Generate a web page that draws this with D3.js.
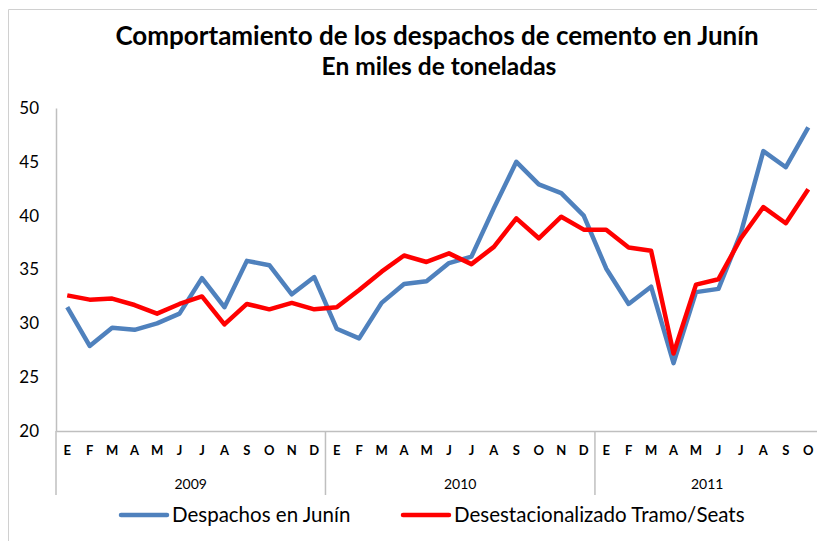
<!DOCTYPE html>
<html lang="es">
<head>
	<meta charset="utf-8">
	<title>Despachos de cemento en Junín</title>
	<script src="https://cdn.jsdelivr.net/npm/d3@7"></script>
	<style>
		body { margin: 0; background: #fff; }
		svg text { font-family: Lato, "Open Sans", sans-serif; fill: #000; }
	</style>
</head>
<body>
	<script>
		var w = 817;
		var h = 541;

		// data (miles de toneladas)
		var months = ["E","F","M","A","M","J","J","A","S","O","N","D",
		              "E","F","M","A","M","J","J","A","S","O","N","D",
		              "E","F","M","A","M","J","J","A","S","O"];
		var years = ["2009", "2010", "2011"];
		var yearLengths = [12, 12, 10];
		var despachos = [31.5, 27.9, 29.6, 29.4, 30.0, 30.9, 34.2, 31.5, 35.8, 35.4, 32.7, 34.3,
		                 29.5, 28.6, 31.9, 33.65, 33.9, 35.6, 36.2, 40.7, 45.0, 42.9, 42.1, 40.0,
		                 35.1, 31.8, 33.4, 26.3, 32.9, 33.2, 38.4, 46.0, 44.5, 48.2];
		var desest = [32.6, 32.2, 32.3, 31.7, 30.9, 31.8, 32.5, 29.9, 31.8, 31.3, 31.9, 31.3,
		              31.5, 33.1, 34.8, 36.3, 35.7, 36.5, 35.5, 37.1, 39.75, 37.9, 39.9, 38.7,
		              38.7, 37.05, 36.75, 27.2, 33.6, 34.1, 37.9, 40.8, 39.3, 42.45];
		var yTicks = [20, 25, 30, 35, 40, 45, 50];
		var seriesNames = ["Despachos en Junín", "Desestacionalizado Tramo/Seats"];
		var colors = ["#4f81bd", "#ff0000"];

		var plotLeft = 56, plotRight = 819.5, plotTop = 108, plotBottom = 431;

		var svg = d3.select("body").append("svg")
			.attr("width", w).attr("height", h);

		// outer frame (right and bottom sides fall outside the picture)
		svg.append("path")
			.attr("d", "M8.5," + h + "V9.5H" + w)
			.attr("fill", "none").attr("stroke", "#d0d0d0");

		// title
		svg.append("text").attr("x", 437).attr("y", 45)
			.attr("text-anchor", "middle").attr("font-size", 26).attr("font-weight", "bold")
			.text("Comportamiento de los despachos de cemento en Junín");
		svg.append("text").attr("x", 439).attr("y", 75)
			.attr("text-anchor", "middle").attr("font-size", 24.5).attr("font-weight", "bold")
			.text("En miles de toneladas");

		var x = d3.scaleBand().domain(d3.range(months.length)).range([plotLeft, plotRight]);
		var y = d3.scaleLinear().domain([20, 50]).range([plotBottom, plotTop]);

		// y axis
		var yAxis = svg.append("g")
			.attr("transform", "translate(" + plotLeft + ",0)")
			.call(d3.axisLeft(y).tickValues(yTicks).tickSize(0).tickPadding(17));
		yAxis.select(".domain").attr("stroke", "#bfbfbf").attr("stroke-width", 1.5);
		yAxis.selectAll("text").attr("font-size", 17).attr("font-family", "Lato, sans-serif");

		// x axis: month letters
		var xAxis = svg.append("g")
			.attr("transform", "translate(0," + plotBottom + ")")
			.call(d3.axisBottom(x).tickFormat(function(i) { return months[i]; }).tickSize(0).tickPadding(15));
		xAxis.select(".domain").attr("stroke", "#bfbfbf").attr("stroke-width", 1.5);
		xAxis.selectAll("text").attr("font-size", 13).attr("font-weight", "bold")
			.attr("font-family", "Lato, sans-serif");

		// year groups
		var start = 0;
		years.forEach(function(yr, k) {
			var x0 = x(start);
			var x1 = x(start + yearLengths[k] - 1) + x.bandwidth();
			svg.append("line")
				.attr("x1", x0).attr("x2", x0).attr("y1", plotBottom).attr("y2", 495)
				.attr("stroke", "#bfbfbf").attr("stroke-width", 1.5);
			svg.append("text").attr("x", (x0 + x1) / 2).attr("y", 489)
				.attr("text-anchor", "middle").attr("font-size", 14)
				.text(yr);
			start += yearLengths[k];
		});

		// lines
		var line = d3.line()
			.x(function(d, i) { return x(i) + x.bandwidth() / 2; })
			.y(function(d) { return y(d); });

		[despachos, desest].forEach(function(s, k) {
			svg.append("path")
				.datum(s)
				.attr("d", line)
				.attr("fill", "none")
				.attr("stroke", colors[k])
				.attr("stroke-width", 4.5)
				.attr("stroke-linejoin", "round");
		});

		// legend
		var legendX = [121, 403];
		seriesNames.forEach(function(name, k) {
			var g = svg.append("g").attr("transform", "translate(" + legendX[k] + ",515)");
			g.append("line").attr("x1", 0).attr("x2", 46)
				.attr("stroke", colors[k]).attr("stroke-width", 4.5).attr("stroke-linecap", "round");
			g.append("text").attr("x", 51).attr("y", 7).attr("font-size", 20.5)
				.text(name);
		});
	</script>
</body>
</html>
